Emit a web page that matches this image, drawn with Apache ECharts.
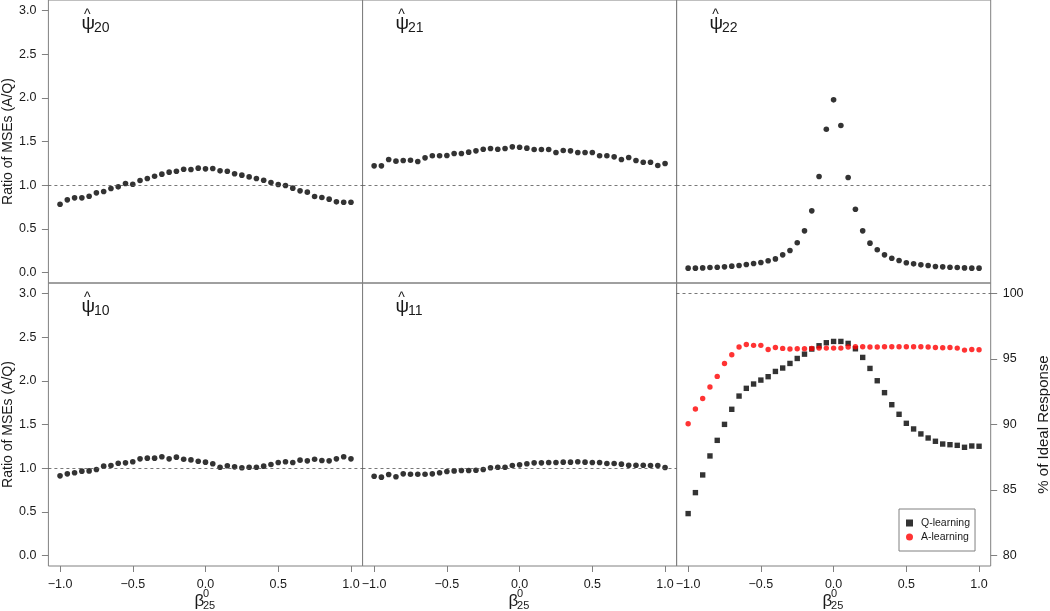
<!DOCTYPE html>
<html><head><meta charset="utf-8">
<script src="https://cdn.jsdelivr.net/npm/echarts@6/dist/echarts.min.js"></script>
<style>html,body{margin:0;padding:0;background:#fff}#c{width:1050px;height:611px}</style>
</head><body><div id="c"></div>
<script>
// ---------- data ----------
const beta = [-1.00,-0.95,-0.90,-0.85,-0.80,-0.75,-0.70,-0.65,-0.60,-0.55,-0.50,-0.45,-0.40,-0.35,-0.30,-0.25,-0.20,-0.15,-0.10,-0.05,0.00,
  0.05,0.10,0.15,0.20,0.25,0.30,0.35,0.40,0.45,0.50,0.55,0.60,0.65,0.70,0.75,0.80,0.85,0.90,0.95,1.00];
const psi20 = [0.782,0.832,0.855,0.855,0.874,0.912,0.927,0.962,0.981,1.019,1.011,1.053,1.076,1.103,1.126,1.149,1.160,1.183,1.179,1.195,1.187,
  1.191,1.164,1.160,1.130,1.115,1.095,1.076,1.057,1.031,1.008,0.996,0.966,0.935,0.920,0.870,0.859,0.840,0.809,0.805,0.805];
const psi21 = [1.221,1.221,1.294,1.275,1.282,1.286,1.271,1.313,1.336,1.336,1.340,1.363,1.363,1.378,1.393,1.412,1.420,1.412,1.420,1.439,1.435,
  1.424,1.408,1.408,1.408,1.374,1.397,1.393,1.374,1.374,1.374,1.336,1.336,1.324,1.294,1.317,1.282,1.263,1.263,1.225,1.248];
const psi22 = [0.050,0.050,0.053,0.057,0.061,0.065,0.073,0.080,0.092,0.103,0.115,0.134,0.156,0.202,0.252,0.340,0.477,0.706,1.099,1.641,1.977,
  1.683,1.088,0.725,0.477,0.336,0.260,0.202,0.164,0.137,0.111,0.099,0.088,0.080,0.069,0.065,0.061,0.057,0.053,0.050,0.050];
const psi10 = [0.912,0.935,0.947,0.966,0.969,0.985,1.023,1.031,1.057,1.061,1.073,1.107,1.115,1.115,1.130,1.107,1.126,1.103,1.095,1.080,1.069,
  1.050,1.011,1.027,1.015,1.004,1.011,1.011,1.023,1.042,1.065,1.073,1.065,1.092,1.084,1.103,1.088,1.084,1.107,1.130,1.107];
const psi11 = [0.908,0.897,0.927,0.901,0.935,0.931,0.931,0.931,0.935,0.947,0.962,0.969,0.973,0.973,0.977,0.985,1.004,1.011,1.011,1.031,1.038,
  1.050,1.061,1.061,1.065,1.065,1.069,1.069,1.073,1.069,1.065,1.065,1.053,1.053,1.046,1.034,1.034,1.034,1.031,1.031,1.008];
const qLearning = [83.20,84.80,86.15,87.60,88.79,90.01,91.16,92.17,92.76,93.09,93.39,93.65,94.05,94.31,94.66,95.04,95.37,95.76,96.01,96.24,96.34,
  96.34,96.19,95.78,95.12,94.28,93.34,92.43,91.51,90.78,90.09,89.66,89.28,88.97,88.72,88.51,88.46,88.41,88.26,88.36,88.34];
const aLearning = [90.06,91.18,91.99,92.86,93.67,94.66,95.32,95.91,96.11,96.04,96.04,95.73,95.88,95.81,95.76,95.78,95.78,95.81,95.83,95.83,95.83,
  95.83,95.91,95.93,95.93,95.91,95.91,95.93,95.93,95.93,95.93,95.93,95.93,95.91,95.88,95.86,95.88,95.83,95.68,95.73,95.71];
const xTicks = [-1.0,-0.5,0.0,0.5,1.0];
const ratioTicks = [0.0,0.5,1.0,1.5,2.0,2.5,3.0];
const pctTicks = [80,85,90,95,100];
const panelSubs = ['20','21','22','10','11'];
const seriesNames = ['Q-learning','A-learning'];

// ---------- layout ----------
const FONT = "'Liberation Sans', Arial, Helvetica, sans-serif";
const TXT = '#1a1a1a';
const FRAME = '#808080';
const colL = [48.4, 362.5, 676.5];
const W = 314.2;
const rowT = [0, 283];
const H = 283;
const fmtNum = v => (v < 0 ? '\u2212' : '') + Math.abs(v).toFixed(1);

const grids = [], xAxes = [], yAxes = [], series = [], graphics = [];
for (let r = 0; r < 2; r++) for (let c = 0; c < 3; c++) {
  const gi = r * 3 + c;
  grids.push({left: colL[c], top: rowT[r], width: W, height: H, show: true,
    borderColor: FRAME, borderWidth: 1, backgroundColor: 'transparent',
    containLabel: false, outerBoundsMode: 'none'});
  const bottom = r === 1;
  xAxes.push({type: 'value', gridIndex: gi, min: -1.08, max: 1.08, position: 'bottom',
    axisLine: {show: false, onZero: false}, splitLine: {show: false},
    axisTick: {show: bottom, length: 6, lineStyle: {color: FRAME}, customValues: xTicks},
    axisLabel: {show: bottom, margin: 12, fontSize: 12.5, fontFamily: FONT, color: TXT,
      customValues: xTicks, formatter: fmtNum}});
  const leftLab = c === 0;
  yAxes.push({type: 'value', gridIndex: gi, min: -0.12, max: 3.12, position: 'left',
    axisLine: {show: false, onZero: false}, splitLine: {show: false},
    axisTick: {show: leftLab, length: 6.5, lineStyle: {color: FRAME}, customValues: ratioTicks},
    axisLabel: {show: leftLab, margin: 12, fontSize: 12.5, fontFamily: FONT, color: TXT,
      customValues: ratioTicks, formatter: v => v.toFixed(1)},
    name: leftLab ? 'Ratio of MSEs (A/Q)' : '', nameLocation: 'middle', nameGap: 33, nameRotate: 90,
    nameTextStyle: {fontSize: 14, fontFamily: FONT, color: TXT}});
}
// right axis for bottom-right panel (index 6)
yAxes.push({type: 'value', gridIndex: 5, min: 79.2, max: 100.8, position: 'right',
  axisLine: {show: false, onZero: false}, splitLine: {show: false},
  axisTick: {show: true, length: 6.5, lineStyle: {color: FRAME}, customValues: pctTicks},
  axisLabel: {show: true, margin: 12, fontSize: 12.5, fontFamily: FONT, color: TXT, customValues: pctTicks},
  name: '% of Ideal Response', nameLocation: 'middle', nameGap: 46, nameRotate: 90,
  nameTextStyle: {fontSize: 15, fontFamily: FONT, color: TXT}});

const refLine = v => ({silent: true, symbol: 'none', label: {show: false},
  lineStyle: {color: '#555', type: [3, 3], width: 0.8}, emphasis: {disabled: true}, data: [{yAxis: v}]});
const pair = arr => beta.map((b, i) => [b, arr[i]]);
const psiData = [psi20, psi21, psi22, psi10, psi11];
psiData.forEach((arr, k) => {
  series.push({type: 'scatter', name: 'psi' + panelSubs[k], xAxisIndex: k, yAxisIndex: k,
    data: pair(arr), symbol: 'circle', symbolSize: 5.6, itemStyle: {color: '#000'},
    markLine: refLine(1), silent: true});
});
series.push({type: 'scatter', name: seriesNames[0], xAxisIndex: 5, yAxisIndex: 6,
  data: pair(qLearning), symbol: 'rect', symbolSize: 5.4, itemStyle: {color: '#000'},
  markLine: refLine(100), silent: true});
series.push({type: 'scatter', name: seriesNames[1], xAxisIndex: 5, yAxisIndex: 6,
  data: pair(aLearning), symbol: 'circle', symbolSize: 5.4, itemStyle: {color: '#ff0000'}, silent: true});

// panel labels: psi-hat with subscript
panelSubs.forEach((s, k) => {
  const r = Math.floor(k / 3), c = k % 3;
  const x0 = colL[c] + 33, y0 = rowT[r];
  graphics.push({type: 'text', x: x0, y: y0 + 24,
    style: {text: '\u03C8', fontSize: 19, fontFamily: FONT, fill: TXT, align: 'left', verticalAlign: 'middle'}});
  graphics.push({type: 'text', x: x0 + 6, y: y0 + 15.5,
    style: {text: '^', fontSize: 14, fontFamily: FONT, fill: TXT, align: 'center', verticalAlign: 'middle'}});
  graphics.push({type: 'text', x: x0 + 12.5, y: y0 + 28,
    style: {text: s, fontSize: 14, fontFamily: FONT, fill: TXT, align: 'left', verticalAlign: 'middle'}});
});
// x-axis titles beta^0_25
for (let c = 0; c < 3; c++) {
  const cx = colL[c] + W / 2;
  graphics.push({type: 'text', x: cx - 11, y: 601,
    style: {text: '\u03B2', fontSize: 17, fontFamily: FONT, fill: TXT, align: 'left', verticalAlign: 'middle'}});
  graphics.push({type: 'text', x: cx - 2.5, y: 594,
    style: {text: '0', fontSize: 11, fontFamily: FONT, fill: TXT, align: 'left', verticalAlign: 'middle'}});
  graphics.push({type: 'text', x: cx - 2.5, y: 606,
    style: {text: '25', fontSize: 11, fontFamily: FONT, fill: TXT, align: 'left', verticalAlign: 'middle'}});
}

const chart = echarts.init(document.getElementById('c'), null, {renderer: 'canvas'});
chart.setOption({
  animation: false,
  backgroundColor: '#fff',
  grid: grids, xAxis: xAxes, yAxis: yAxes, series: series,
  legend: {show: true, orient: 'vertical', left: 899, top: 509,
    data: [{name: seriesNames[0], icon: 'rect'}, {name: seriesNames[1], icon: 'circle'}],
    itemWidth: 7, itemHeight: 7, itemGap: 0,
    padding: [7, 5, 7, 7], borderColor: FRAME, borderWidth: 1, selectedMode: false,
    textStyle: {fontSize: 10.5, fontFamily: FONT, color: TXT, lineHeight: 14, padding: [0, 0, 0, 3]}},
  graphic: graphics
});
</script>
</body></html>
